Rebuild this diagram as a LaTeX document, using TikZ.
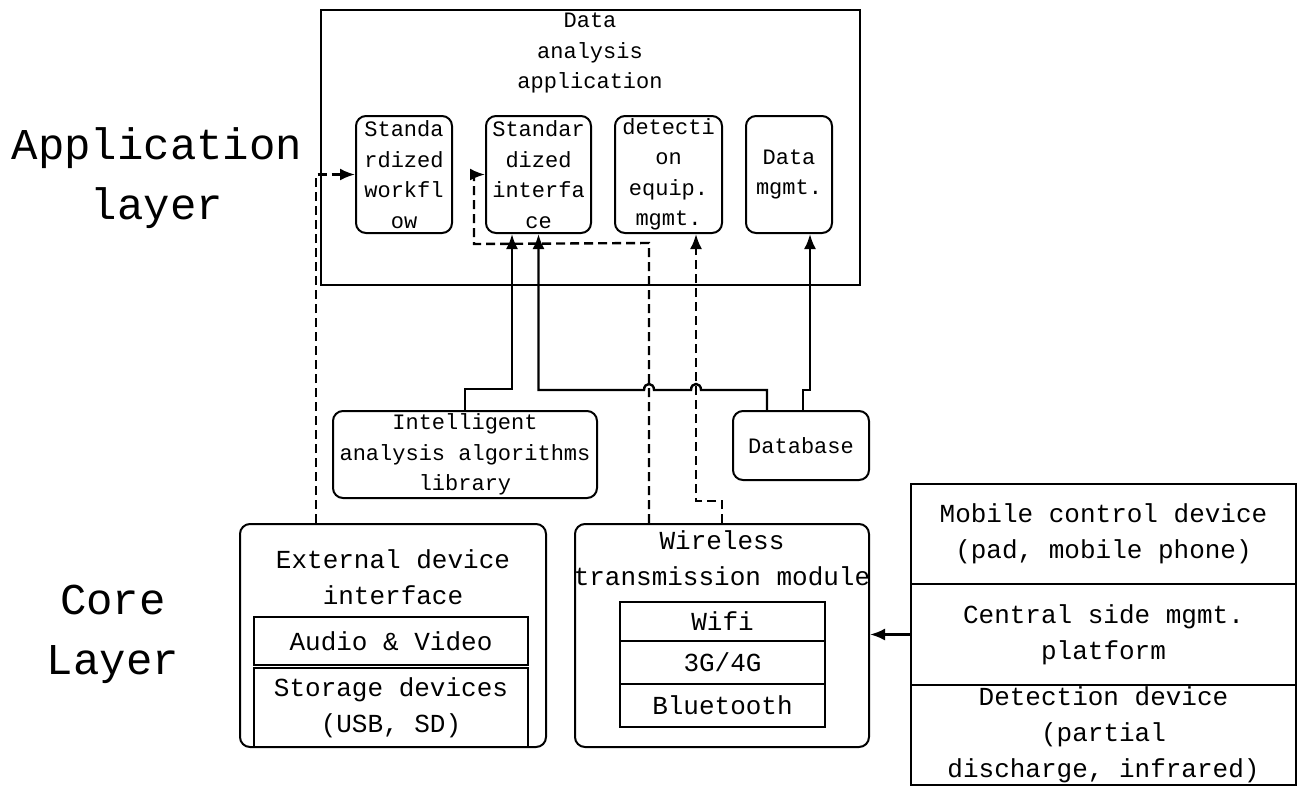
\documentclass[tikz,border=0pt]{standalone}
\usepackage{fontspec}
\newfontfamily\monofnt{Liberation Mono}
\usetikzlibrary{arrows.meta}
\tikzset{
  x=1pt,y=-1pt,
  smalltxt/.style={font=\monofnt\fontsize{22}{30.5}\selectfont},
  bigtxt/.style={font=\monofnt\fontsize{26}{36}\selectfont},
  hugetxt/.style={font=\monofnt\fontsize{44}{60}\selectfont},
  rbox/.style={draw, line width=2pt, rounded corners=10pt, inner sep=0pt, align=center},
  sbox/.style={draw, line width=1.6pt, inner sep=0pt, align=center},
  conn/.style={line width=2.4pt, -{Latex[length=15pt,width=12pt]}},
  dconn/.style={conn, dash pattern=on 9pt off 5pt},
}
\begin{document}
\begin{tikzpicture}
\useasboundingbox (0,0) rectangle (1297,787);
% layer labels
\node[hugetxt, align=center] (applbl) at (157,178) {Application\\layer};
\node[hugetxt, align=center] (corelbl) at (113,634) {Core\\Layer};
% application box
\node[sbox, minimum width=539pt, minimum height=275pt] (app) at (590.5,147.5) {};
\node[smalltxt, align=center] (apptitle) at (590,53) {Data\\analysis\\application};
\node[rbox, smalltxt, minimum width=96pt, minimum height=117pt] (wf) at (404,174.5) {Standa\\rdized\\workfl\\ow};
\node[rbox, smalltxt, minimum width=105pt, minimum height=117pt] (si) at (538.5,174.5) {Standar\\dized\\interfa\\ce};
\node[rbox, smalltxt, minimum width=107pt, minimum height=117pt] (dem) at (668.5,174.5) {detecti\\on\\equip.\\mgmt.};
\node[rbox, smalltxt, minimum width=86pt, minimum height=117pt] (dm) at (789,174.5) {Data\\mgmt.};
% library and database
\node[rbox, smalltxt, minimum width=264pt, minimum height=87pt] (lib) at (465,454.5) {Intelligent\\analysis algorithms\\library};
\node[rbox, smalltxt, minimum width=136pt, minimum height=69pt] (db) at (801,445.5) {Database};
% external device interface
\node[rbox, minimum width=306pt, minimum height=223pt] (ext) at (393,635.5) {};
\node[bigtxt, align=center] (exttitle) at (393,577) {External device\\interface};
\node[sbox, bigtxt, minimum width=274pt, minimum height=48pt] (av) at (391,641) {Audio \& Video};
\node[sbox, bigtxt, minimum width=274pt, minimum height=79pt] (sd) at (391,707.5) {Storage devices\\(USB, SD)};
% wireless
\node[rbox, minimum width=294pt, minimum height=223pt] (wl) at (722,635.5) {};
\node[bigtxt, align=center] (wltitle) at (722,558) {Wireless\\transmission module};
\node[sbox, bigtxt, minimum width=205pt, minimum height=39pt] (wifi) at (722.5,621.5) {Wifi};
\node[sbox, bigtxt, minimum width=205pt, minimum height=43pt] (g34) at (722.5,662.5) {3G/4G};
\node[sbox, bigtxt, minimum width=205pt, minimum height=43pt] (bt) at (722.5,705.5) {Bluetooth};
% right stack
\node[sbox, bigtxt, minimum width=385pt, minimum height=100pt] (mob) at (1103.5,534) {Mobile control device\\(pad, mobile phone)};
\node[sbox, bigtxt, minimum width=385pt, minimum height=101pt] (cen) at (1103.5,634.5) {Central side mgmt.\\platform};
\node[sbox, bigtxt, minimum width=385pt, minimum height=100pt] (det) at (1103.5,735) {Detection device\\(partial\\discharge, infrared)};
% solid connectors
\draw[conn] (lib.north) -- ++(0,-21) -| ([xshift=-26.5pt]si.south);
\draw[conn] ([xshift=-34pt]db.north) |- (701,390)
  .. controls (701,382) and (691,382) .. (691,390) -- (654,390)
  .. controls (654,382) and (644,382) .. (644,390) -| (si.south);
\draw[conn] ([xshift=2pt]db.north) |- ([xshift=21pt]dm.south |- 0,390) -- ([xshift=21pt]dm.south);
% dashed connectors
\draw[dconn] ([xshift=-77pt]ext.north) |- (wf.west);
\draw[dconn] ([xshift=-73pt]wl.north) -- ++(0,-280) -- (474,244) |- (si.west);
\draw[dconn] (wl.north) -- ++(0,-22) -| ([xshift=27.5pt]dem.south);
% platform to wireless
\draw[conn] (cen.west) -- (cen.west -| wl.east);
\end{tikzpicture}
\end{document}
